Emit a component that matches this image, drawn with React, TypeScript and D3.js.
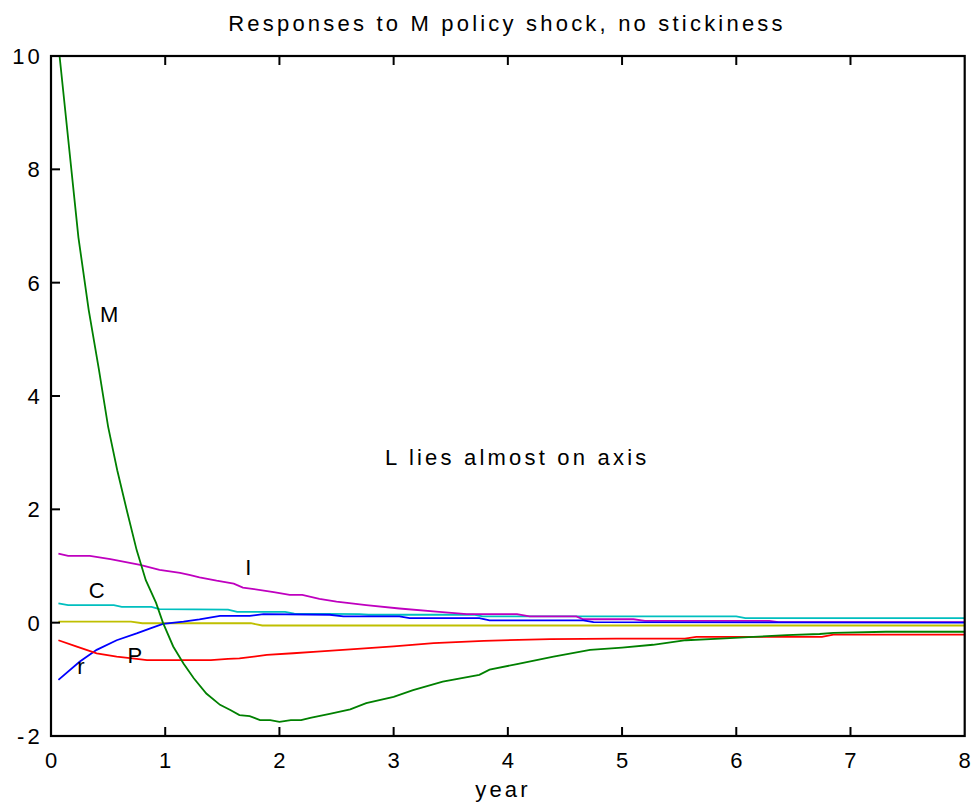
import React from "react";
import * as d3 from "d3";

const title = "Responses to M policy shock, no stickiness";
const xLabel = "year";
const note = "L lies almost on axis";
const xTicks = [0, 1, 2, 3, 4, 5, 6, 7, 8];
const yTicks = [-2, 0, 2, 4, 6, 8, 10];

const mTime = [0.075, 0.24, 0.33, 0.42, 0.5, 0.58, 0.67, 0.75, 0.83, 0.92, 0.98, 1.07, 1.16, 1.25, 1.36, 1.48, 1.57, 1.65, 1.74, 1.83, 1.92, 2.0, 2.1, 2.19, 2.27, 2.44, 2.62, 2.76, 3.0, 3.17, 3.43, 3.75, 3.84, 4.08, 4.4, 4.72, 5.0, 5.27, 5.56, 5.86, 6.15, 6.44, 6.73, 6.85, 7.31, 8.0];
const mValues = [10, 6.8, 5.52, 4.46, 3.46, 2.69, 1.93, 1.28, 0.75, 0.35, 0, -0.42, -0.72, -0.98, -1.25, -1.45, -1.54, -1.63, -1.65, -1.72, -1.72, -1.75, -1.72, -1.72, -1.68, -1.61, -1.53, -1.42, -1.31, -1.19, -1.04, -0.92, -0.83, -0.73, -0.6, -0.48, -0.44, -0.39, -0.31, -0.28, -0.25, -0.22, -0.2, -0.18, -0.16, -0.16];

const pTime = [0.065, 0.22, 0.4, 0.575, 0.75, 0.84, 1.22, 1.4, 1.55, 1.65, 1.89, 2.12, 2.33, 2.62, 3.0, 3.35, 3.79, 4.37, 4.95, 5.55, 5.65, 6.75, 6.85, 8.0];
const pValues = [-0.31, -0.42, -0.54, -0.6, -0.64, -0.66, -0.66, -0.66, -0.64, -0.63, -0.57, -0.54, -0.51, -0.47, -0.42, -0.36, -0.32, -0.29, -0.28, -0.28, -0.25, -0.25, -0.21, -0.21];

const rTime = [0.065, 0.25, 0.4, 0.575, 0.75, 0.87, 0.98, 1.16, 1.3, 1.48, 1.74, 1.86, 2.44, 2.56, 3.05, 3.14, 3.75, 3.84, 4.66, 4.75, 8.0];
const rValues = [-1.01, -0.69, -0.48, -0.31, -0.19, -0.1, -0.02, 0.02, 0.06, 0.12, 0.12, 0.15, 0.14, 0.11, 0.11, 0.08, 0.08, 0.04, 0.04, 0.01, 0.0];

const lTime = [0.065, 0.7, 0.8, 1.75, 1.85, 8.0];
const lValues = [0.02, 0.02, -0.01, -0.01, -0.05, -0.05];

const cTime = [0.065, 0.15, 0.55, 0.62, 0.88, 0.95, 1.55, 1.63, 2.05, 2.13, 2.7, 2.78, 3.7, 3.78, 6.0, 6.08, 8.0];
const cValues = [0.34, 0.31, 0.31, 0.28, 0.28, 0.24, 0.23, 0.19, 0.19, 0.16, 0.15, 0.14, 0.14, 0.11, 0.11, 0.08, 0.08];

const iTime = [0.065, 0.15, 0.34, 0.52, 0.78, 0.95, 1.13, 1.22, 1.3, 1.45, 1.6, 1.68, 1.95, 2.09, 2.2, 2.35, 2.5, 2.76, 3.05, 3.4, 3.64, 4.08, 4.19, 4.6, 4.66, 5.1, 5.2, 6.29, 6.37, 8.0];
const iValues = [1.22, 1.18, 1.18, 1.12, 1.02, 0.93, 0.88, 0.84, 0.8, 0.74, 0.69, 0.62, 0.54, 0.49, 0.49, 0.42, 0.37, 0.31, 0.25, 0.19, 0.15, 0.15, 0.11, 0.11, 0.06, 0.06, 0.03, 0.03, 0.01, 0.01];

const seriesNames = ["L", "C", "I", "r", "P", "M"];
const seriesColors = ["#bfbf00", "#00bfbf", "#bf00bf", "#0000ff", "#ff0000", "#008000"];
const seriesTimes = [lTime, cTime, iTime, rTime, pTime, mTime];
const seriesValues = [lValues, cValues, iValues, rValues, pValues, mValues];

const labelText = ["M", "I", "C", "P", "r"];
const labelX = [0.43, 1.7, 0.33, 0.67, 0.23];
const labelY = [5.3, 0.85, 0.43, -0.72, -0.9];

export default function App() {
  const W = 974, H = 810;
  const x = d3.scaleLinear().domain([0, 8]).range([51, 964.7]);
  const y = d3.scaleLinear().domain([-2, 10]).range([736, 56]);
  const line = d3.line<[number, number]>().x(d => x(d[0])).y(d => y(d[1]));
  const font = "'Liberation Sans', Arial, Helvetica, sans-serif";
  const fs = 22;
  const ls = 3.2;
  return (
    <svg width={W} height={H} style={{ position: "absolute", left: 0, top: 0, background: "#fff" }} fontFamily={font}>
      <rect x={0} y={0} width={W} height={H} fill="#fff" />
      {seriesNames.map((n, k) => (
        <path key={n} d={line(seriesTimes[k].map((t, j) => [t, seriesValues[k][j]] as [number, number])) || ""}
          fill="none" stroke={seriesColors[k]} strokeWidth={1.8} />
      ))}
      <rect x={x(0)} y={y(10)} width={x(8) - x(0)} height={y(-2) - y(10)} fill="none" stroke="#000" strokeWidth={2.2} />
      {xTicks.slice(1, -1).map(t => (
        <g key={"xt" + t}>
          <line x1={x(t)} x2={x(t)} y1={y(-2)} y2={y(-2) - 9} stroke="#000" strokeWidth={2} />
          <line x1={x(t)} x2={x(t)} y1={y(10)} y2={y(10) + 9} stroke="#000" strokeWidth={2} />
        </g>
      ))}
      {yTicks.slice(1, -1).map(t => (
        <line key={"yt" + t} x1={x(0)} x2={x(0) + 9} y1={y(t)} y2={y(t)} stroke="#000" strokeWidth={2} />
      ))}
      {xTicks.map(t => (
        <text key={"xl" + t} x={x(t) + ls / 2} y={768} textAnchor="middle" fontSize={fs} letterSpacing={ls}>{t}</text>
      ))}
      {yTicks.map(t => (
        <text key={"yl" + t} x={43} y={y(t) + 8} textAnchor="end" fontSize={fs} letterSpacing={ls}>{t}</text>
      ))}
      <text x={507} y={31} textAnchor="middle" fontSize={fs} letterSpacing={ls}>{title}</text>
      <text x={503} y={797} textAnchor="middle" fontSize={fs} letterSpacing={ls}>{xLabel}</text>
      <text x={385} y={465} fontSize={fs} letterSpacing={ls}>{note}</text>
      {labelText.map((s, k) => (
        <text key={s} x={x(labelX[k])} y={y(labelY[k])} fontSize={fs}>{s}</text>
      ))}
    </svg>
  );
}
